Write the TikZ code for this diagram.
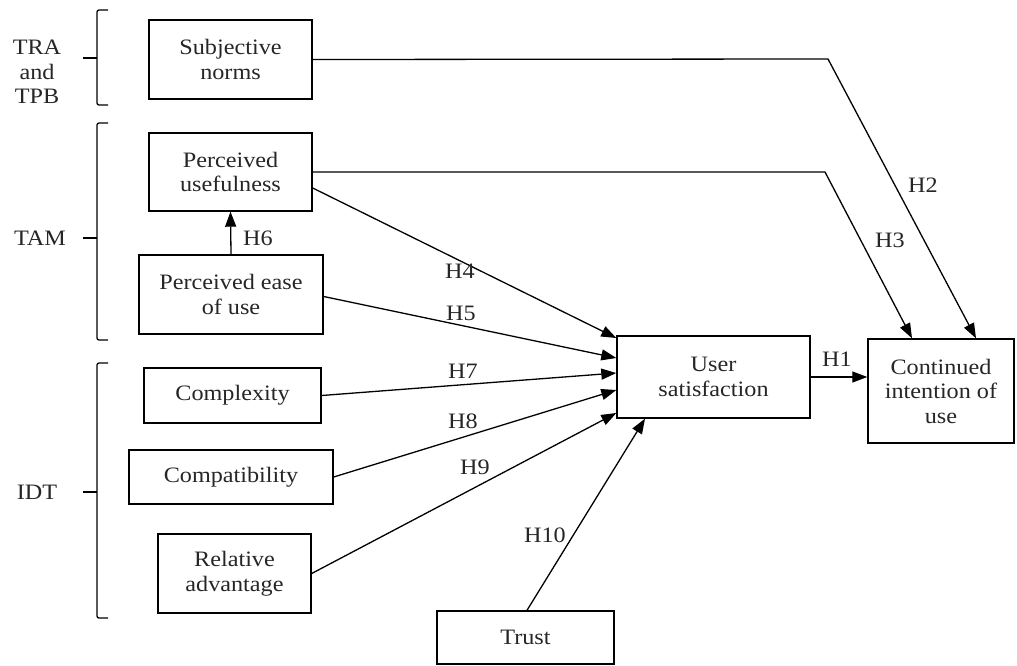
\documentclass[tikz,border=0pt]{standalone}
\usepackage{fontspec}
\setmainfont{Liberation Serif}[FakeStretch=1.1]
\usetikzlibrary{arrows.meta,calc}
\begin{document}
\begin{tikzpicture}[x=1pt,y=-1pt,
  box/.style={draw,line width=1.4pt,inner sep=0pt,align=center,font=\fontsize{22}{24.5}\selectfont,text=black!85},
  lab/.style={inner sep=0pt,font=\fontsize{22}{24.5}\selectfont,text=black!85},
  arr/.style={line width=1.3pt,-{Triangle[length=15pt,width=11pt]}},
  brk/.style={line width=1.3pt,rounded corners=2pt}]
\useasboundingbox (0,0) rectangle (1017,666);
% boxes
\node[box,minimum width=163pt,minimum height=79pt] (sn) at (230.5,59.5) {Subjective\\norms};
\node[box,minimum width=163pt,minimum height=78pt] (pu) at (230.5,172) {Perceived\\usefulness};
\node[box,minimum width=184pt,minimum height=79pt] (peou) at (231,294.5) {Perceived ease\\of use};
\node[box,minimum width=177pt,minimum height=55pt] (cx) at (232.5,395.5) {Complexity};
\node[box,minimum width=204pt,minimum height=54pt] (cp) at (231,477) {Compatibility};
\node[box,minimum width=153pt,minimum height=79pt] (ra) at (234.5,573.5) {Relative\\advantage};
\node[box,minimum width=193pt,minimum height=82pt] (us) at (713.5,377) {User\\satisfaction};
\node[box,minimum width=146pt,minimum height=104pt] (ci) at (941,391) {Continued\\intention of\\use};
\node[box,minimum width=177pt,minimum height=53pt] (tr) at (525.5,637.5) {Trust};
% theory labels
\node[lab,align=center] (tra) at (37,72) {TRA\\and\\TPB};
\node[lab] (tam) at (40,238) {TAM};
\node[lab] (idt) at (37,492) {IDT};
% brackets
\draw[brk] (108,10) -- (97,10) -- (97,105) -- (108,105);
\draw[line width=1.3pt] (83,58) -- (97,58);
\draw[brk] (108,123) -- (97,123) -- (97,340) -- (108,340);
\draw[line width=1.3pt] (83,238) -- (97,238);
\draw[brk] (108,363) -- (97,363) -- (97,618) -- (108,618);
\draw[line width=1.3pt] (83,492) -- (97,492);
% connectors
\coordinate (b2) at (828,59);
\coordinate (b3) at (825,172);
\draw[arr] (sn.east) -- (b2) -- ([xshift=35pt]ci.north);
\draw[arr] (pu.east) -- (b3) -- ([xshift=-29pt]ci.north);
\draw[arr] ([yshift=-16pt]pu.east) -- ([yshift=39pt]us.west);
\draw[arr] ([yshift=-2pt]peou.east) -- ([yshift=19pt]us.west);
\draw[arr] (peou.north) -- (pu.south);
\draw[arr] (cx.east) -- ([yshift=4pt]us.west);
\draw[arr] (cp.east) -- ([yshift=-13pt]us.west);
\draw[arr] (ra.east) -- ([yshift=-36pt]us.west);
\draw[arr] ([xshift=1.5pt]tr.north) -- ([xshift=-68.5pt]us.south);
\draw[arr] (us.east) -- (ci.west |- us.east);
% hypothesis labels
\node[lab] (h1) at (837,359) {H1};
\node[lab] (h2) at (923,185) {H2};
\node[lab] (h3) at (890,240) {H3};
\node[lab] (h4) at (460,271) {H4};
\node[lab] (h5) at (461,313) {H5};
\node[lab] (h6) at (258,238) {H6};
\node[lab] (h7) at (463,371) {H7};
\node[lab] (h8) at (463,421) {H8};
\node[lab] (h9) at (475,467) {H9};
\node[lab] (h10) at (545,535) {H10};
\end{tikzpicture}
\end{document}
